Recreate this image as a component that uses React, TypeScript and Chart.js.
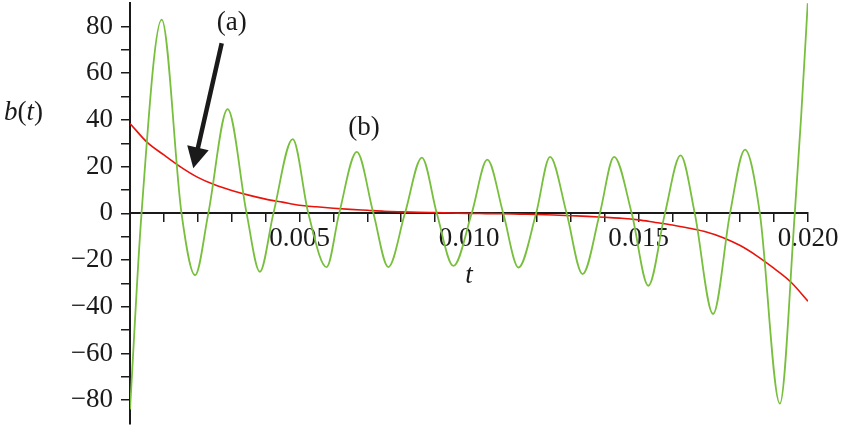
import React, { useEffect, useRef } from 'react';
import { Chart, registerables } from 'chart.js';

Chart.register(...registerables);

// ---- data ----
// curve (a): red, smooth decay / antisymmetric about t = 0.010
const redT = [
  0, 0.0005, 0.001, 0.0015, 0.002, 0.0025, 0.003, 0.0035, 0.004, 0.0045,
  0.005, 0.0055, 0.006, 0.0065, 0.007, 0.0075, 0.008, 0.0085, 0.009, 0.0095,
  0.01, 0.0105, 0.011, 0.0115, 0.012, 0.0125, 0.013, 0.0135, 0.014, 0.0145,
  0.015, 0.0155, 0.016, 0.0165, 0.017, 0.0175, 0.018, 0.0185, 0.019, 0.0195, 0.02,
];
const redB = [
  38.5, 30.5, 25, 19.8, 15.4, 12.2, 9.8, 7.8, 6.1, 4.8,
  3.5, 2.8, 2.2, 1.7, 1.3, 0.9, 0.65, 0.45, 0.3, 0.15,
  0, -0.1, -0.2, -0.35, -0.5, -0.7, -1.0, -1.3, -1.7, -2.1,
  -2.8, -3.9, -5.0, -6.4, -8.0, -10.4, -13.8, -18.3, -23.6, -29.5, -37.6,
];

// curve (b): green oscillation (extrema and zero crossings)
const greenT = [
  0, 0.00034, 0.000935, 0.00152, 0.00192, 0.00231, 0.00288, 0.00344, 0.00383, 0.00423,
  0.0048, 0.00526, 0.0058, 0.00617, 0.00669, 0.00718, 0.00762, 0.00811, 0.00861, 0.00905,
  0.00954, 0.01008, 0.01054, 0.01101, 0.01146, 0.01198, 0.01239, 0.01288, 0.01335, 0.01386,
  0.01428, 0.0148, 0.01529, 0.01578, 0.01624, 0.01666, 0.0172, 0.0177, 0.01814, 0.01858,
  0.01917, 0.01961, 0.0198, 0.02,
];
const greenB = [
  -84, 0, 83, 0, -26.5, 0, 44.6, 0, -25, 0,
  31.8, 0, -23, 0, 26.3, 0, -23, 0, 23.9, 0,
  -22.5, 0, 23, 0, -23.2, 0, 24.2, 0, -26, 0,
  24.2, 0, -31, 0, 24.8, 0, -43.1, 0, 27.3, 0,
  -81.5, 0, 42, 92,
];

const xTickValues = [0.005, 0.01, 0.015, 0.02];
const xTickLabels = ['0.005', '0.010', '0.015', '0.020'];
const yTickValues = [-80, -60, -40, -20, 0, 20, 40, 60, 80];
const yTickLabels = ['\u221280', '\u221260', '\u221240', '\u221220', '0', '20', '40', '60', '80'];

const X_MIN = 0;
const X_MAX = 0.02;
const Y_MIN = -90;
const Y_MAX = 90;

const GREEN = '#77bf3c';
const RED = '#e8140c';
const INK = '#1a1a1a';
const SERIF = '"Liberation Serif", "Times New Roman", serif';

const annotationPlugin = {
  id: 'annotations',
  afterDraw(chart: any) {
    const ctx = chart.ctx as CanvasRenderingContext2D;
    const xs = chart.scales.x;
    const ys = chart.scales.y;
    ctx.save();
    ctx.fillStyle = INK;
    ctx.strokeStyle = INK;

    // y-axis title b(t)
    let x = 4;
    const yb = ys.getPixelForValue(39.8);
    ctx.textBaseline = 'alphabetic';
    ctx.textAlign = 'left';
    const parts: [string, boolean][] = [['b', true], ['(', false], ['t', true], [')', false]];
    for (const [s, it] of parts) {
      ctx.font = (it ? 'italic ' : '') + '27px ' + SERIF;
      ctx.fillText(s, x, yb);
      x += ctx.measureText(s).width;
    }

    // x-axis title t
    ctx.font = 'italic 27px ' + SERIF;
    ctx.textAlign = 'center';
    ctx.fillText('t', xs.getPixelForValue(0.01), ys.getPixelForValue(-29.8));

    // labels (a), (b)
    ctx.font = '27px ' + SERIF;
    ctx.fillText('(a)', xs.getPixelForValue(0.003), ys.getPixelForValue(78.5));
    ctx.fillText('(b)', xs.getPixelForValue(0.0069), ys.getPixelForValue(33.6));

    // arrow pointing at curve (a)
    const x0 = xs.getPixelForValue(0.002705);
    const y0 = ys.getPixelForValue(72.8);
    const x1 = xs.getPixelForValue(0.001867);
    const y1 = ys.getPixelForValue(19.3);
    const dx = x1 - x0;
    const dy = y1 - y0;
    const len = Math.hypot(dx, dy);
    const ux = dx / len;
    const uy = dy / len;
    const headLen = 21;
    const headHalf = 11;
    const bx = x1 - ux * headLen;
    const by = y1 - uy * headLen;
    ctx.lineWidth = 4.5;
    ctx.lineCap = 'butt';
    ctx.beginPath();
    ctx.moveTo(x0, y0);
    ctx.lineTo(bx + ux * 2, by + uy * 2);
    ctx.stroke();
    ctx.beginPath();
    ctx.moveTo(x1, y1);
    ctx.lineTo(bx - uy * headHalf, by + ux * headHalf);
    ctx.lineTo(bx + uy * headHalf, by - ux * headHalf);
    ctx.closePath();
    ctx.fill();
    ctx.restore();
  },
};

export default function App() {
  const canvasRef = useRef<HTMLCanvasElement | null>(null);

  useEffect(() => {
    const canvas = canvasRef.current;
    if (!canvas) return;
    const greenData = greenT.map((t, i) => ({ x: t, y: greenB[i] }));
    const redData = redT.map((t, i) => ({ x: t, y: redB[i] }));

    const chart = new Chart(canvas, {
      type: 'line',
      data: {
        datasets: [
          {
            label: '(b)',
            data: greenData,
            borderColor: GREEN,
            borderWidth: 1.8,
            pointRadius: 0,
            fill: false,
            cubicInterpolationMode: 'monotone',
          },
          {
            label: '(a)',
            data: redData,
            borderColor: RED,
            borderWidth: 1.6,
            pointRadius: 0,
            fill: false,
            cubicInterpolationMode: 'monotone',
          },
        ],
      },
      options: {
        animation: false,
        responsive: false,
        devicePixelRatio: 1,
        layout: { padding: { left: 0, right: 38, top: 3.2, bottom: 2.5 } },
        plugins: {
          legend: { display: false },
          tooltip: { enabled: false },
        },
        scales: {
          x: {
            type: 'linear',
            min: X_MIN,
            max: X_MAX,
            position: { y: 0 } as any,
            grid: {
              display: true,
              drawOnChartArea: false,
              drawTicks: true,
              tickLength: 8,
              color: INK,
              lineWidth: 1.5,
            },
            border: { display: true, color: INK, width: 2 },
            ticks: {
              stepSize: 0.001,
              autoSkip: false,
              maxRotation: 0,
              minRotation: 0,
              padding: 1,
              color: INK,
              font: { family: SERIF, size: 27 },
              callback: (v: any) => {
                const idx = xTickValues.findIndex((tv) => Math.abs(tv - Number(v)) < 1e-7);
                return idx >= 0 ? xTickLabels[idx] : '';
              },
            },
            afterFit: (s: any) => {
              s.paddingLeft = 0;
              s.paddingRight = 0;
              s.paddingTop = 0;
              s.paddingBottom = 0;
            },
          },
          y: {
            type: 'linear',
            min: Y_MIN,
            max: Y_MAX,
            position: 'left',
            grid: {
              display: true,
              drawOnChartArea: false,
              drawTicks: true,
              tickLength: 9,
              color: INK,
              lineWidth: 1.5,
            },
            border: { display: true, color: INK, width: 2 },
            ticks: {
              stepSize: 10,
              autoSkip: false,
              padding: 8,
              color: INK,
              font: { family: SERIF, size: 27 },
              callback: (v: any) => {
                const idx = yTickValues.findIndex((tv) => Math.abs(tv - Number(v)) < 1e-7);
                return idx >= 0 ? yTickLabels[idx] : '';
              },
            },
            afterBuildTicks: (s: any) => {
              s.ticks = s.ticks.filter((t: any) => Math.abs(t.value) <= 80);
            },
            afterFit: (s: any) => {
              s.width = 130;
              s.paddingTop = 0;
              s.paddingBottom = 0;
            },
          },
        },
      },
      plugins: [annotationPlugin],
    } as any);

    return () => {
      chart.destroy();
    };
  }, []);

  return (
    <div
      style={{
        position: 'fixed',
        left: 0,
        top: 0,
        width: 846,
        height: 426,
        background: '#ffffff',
      }}
    >
      <canvas ref={canvasRef} width={846} height={426} style={{ width: 846, height: 426, display: 'block' }} />
    </div>
  );
}
